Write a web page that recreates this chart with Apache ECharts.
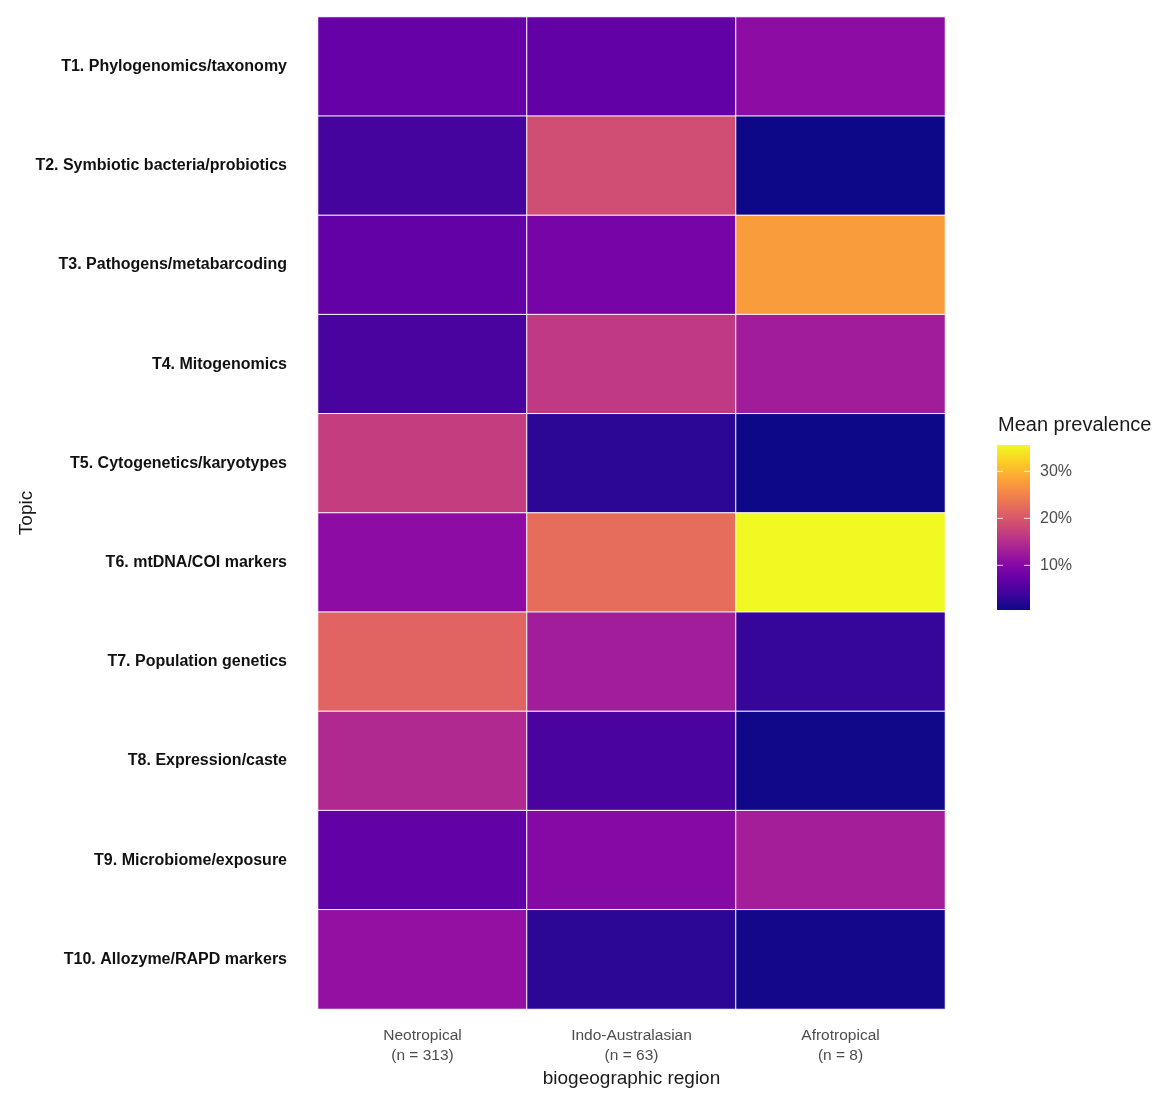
<!DOCTYPE html>
<html>
<head>
<meta charset="utf-8">
<script src="https://cdn.jsdelivr.net/npm/echarts@6/dist/echarts.min.js"></script>
<style>
html,body{margin:0;padding:0;background:#fff;}
#chart{width:1175px;height:1106px;}
</style>
</head>
<body>
<div id="chart"></div>
<script>
const regions = ['Neotropical\n(n = 313)', 'Indo-Australasian\n(n = 63)', 'Afrotropical\n(n = 8)'];
const topics = [
  'T1. Phylogenomics/taxonomy',
  'T2. Symbiotic bacteria/probiotics',
  'T3. Pathogens/metabarcoding',
  'T4. Mitogenomics',
  'T5. Cytogenetics/karyotypes',
  'T6. mtDNA/COI markers',
  'T7. Population genetics',
  'T8. Expression/caste',
  'T9. Microbiome/exposure',
  'T10. Allozyme/RAPD markers'
];
// mean prevalence (%) per topic, per region
const neotropical     = [7.2, 4.4, 7.0, 4.7, 17.0, 10.7, 21.5, 14.4, 6.8, 11.4];
const indoAustralasian = [6.8, 18.8, 8.7, 16.3, 2.6, 22.6, 13.0, 4.9, 10.0, 2.6];
const afrotropical    = [10.7, 0.5, 27.5, 12.8, 0.5, 35.6, 3.3, 0.7, 13.1, 0.9];
const legendTicks = [10, 20, 30];
const scaleMin = 0.5, scaleMax = 35.6;

const plasma = ['#0d0887','#41049d','#6a00a8','#8f0da4','#b12a90','#cc4778','#e16462','#f2844b','#fca636','#fcce25','#f0f921'];

const cols = [neotropical, indoAustralasian, afrotropical];
const data = [];
cols.forEach((arr, xi) => arr.forEach((v, yi) => data.push([xi, yi, v])));

const chart = echarts.init(document.getElementById('chart'));

const barX = 997, barTop = 445, barW = 33, barH = 165;
const graphics = [
  {type:'text', left: 998, top: 415, style:{text:'Mean prevalence', fontSize:20, fontFamily:'Liberation Sans, Arial, sans-serif', fill:'#1a1a1a'}},
  {type:'rect', shape:{x:barX, y:barTop, width:barW, height:barH},
   style:{fill:new echarts.graphic.LinearGradient(0,1,0,0, plasma.map((c,i)=>({offset:i/(plasma.length-1), color:c})))}}
];
legendTicks.forEach(t => {
  const y = barTop + barH * (1 - (t - scaleMin) / (scaleMax - scaleMin));
  graphics.push({type:'line', shape:{x1:barX, y1:y, x2:barX+6, y2:y}, style:{stroke:'#ffffff', lineWidth:1, opacity:0.8}});
  graphics.push({type:'line', shape:{x1:barX+barW-6, y1:y, x2:barX+barW, y2:y}, style:{stroke:'#ffffff', lineWidth:1, opacity:0.8}});
  graphics.push({type:'text', x: barX + barW + 10, y: y, style:{text: t + '%', fontSize:16, fontFamily:'Liberation Sans, Arial, sans-serif', fill:'#4d4d4d', verticalAlign:'middle'}});
});

chart.setOption({
  animation:false,
  backgroundColor:'#ffffff',
  grid:{left:318, right:230, top:17, bottom:97, outerBoundsMode:'none', containLabel:false},
  xAxis:{
    type:'category', data:regions,
    axisLine:{show:false}, axisTick:{show:false}, splitArea:{show:false},
    axisLabel:{color:'#4d4d4d', fontSize:15.5, fontFamily:'Liberation Sans Narrow, Arial Narrow, Liberation Sans, sans-serif', lineHeight:20, margin:17},
    name:'biogeographic region', nameLocation:'middle', nameGap:60, nameMoveOverlap:false,
    nameTextStyle:{color:'#1a1a1a', fontSize:19, fontFamily:'Liberation Sans, Arial, sans-serif'}
  },
  yAxis:{
    type:'category', data:topics, inverse:true,
    axisLine:{show:false}, axisTick:{show:false},
    axisLabel:{color:'#111', fontSize:16, fontWeight:'bold', fontFamily:'Liberation Sans Narrow, Arial Narrow, Liberation Sans, sans-serif', margin:31},
    name:'Topic', nameLocation:'middle', nameGap:282, nameRotate:90, nameMoveOverlap:false,
    nameTextStyle:{color:'#1a1a1a', fontSize:19, fontFamily:'Liberation Sans, Arial, sans-serif'}
  },
  visualMap:{show:false, type:'continuous', min:scaleMin, max:scaleMax, dimension:2, inRange:{color:plasma}},
  series:[{
    type:'heatmap', data:data,
    itemStyle:{borderColor:'#ffffff', borderWidth:1},
    emphasis:{disabled:true}
  }],
  graphic: graphics
});
</script>
</body>
</html>
